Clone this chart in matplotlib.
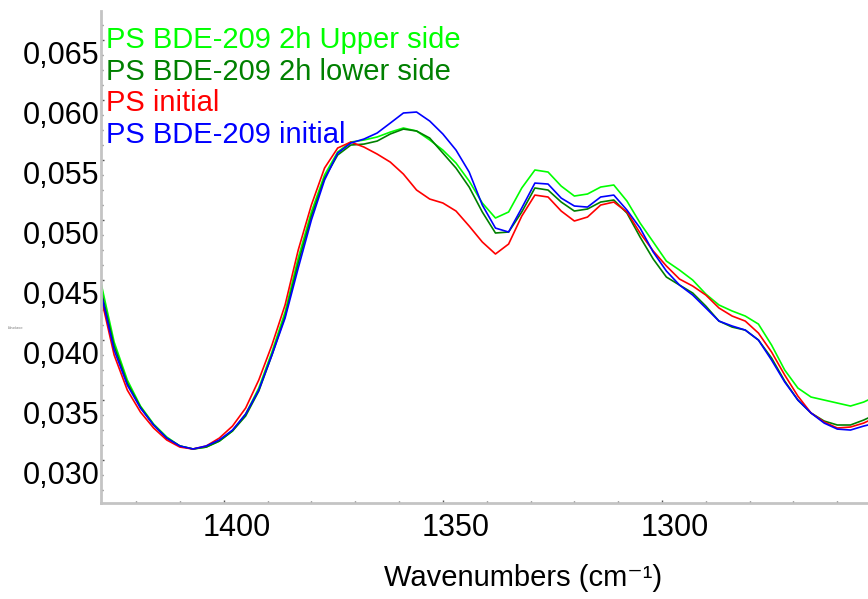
import matplotlib
matplotlib.use("Agg")
import matplotlib.pyplot as plt
from matplotlib.ticker import FixedLocator, MultipleLocator, AutoMinorLocator, FuncFormatter
from matplotlib.transforms import ScaledTranslation
from matplotlib import font_manager

# ---------------- data ----------------
wavenumbers = [1428, 1425, 1422, 1419, 1416, 1413, 1410, 1407, 1404, 1401,
               1398, 1395, 1392, 1389, 1386, 1383, 1380, 1377, 1374, 1371,
               1368, 1365, 1362, 1359, 1356, 1353, 1350, 1347, 1344, 1341,
               1338, 1335, 1332, 1329, 1326, 1323, 1320, 1317, 1314, 1311,
               1308, 1305, 1302, 1299, 1296, 1293, 1290, 1287, 1284, 1281,
               1278, 1275, 1272, 1269, 1266, 1263, 1260, 1257, 1254, 1253]

upper_side = [0.04475, 0.03983, 0.03667, 0.03450, 0.03300, 0.03192, 0.03117, 0.03092, 0.03108, 0.03158,
              0.03242, 0.03383, 0.03600, 0.03900, 0.04233, 0.04683, 0.05067, 0.05375, 0.05567, 0.05650,
              0.05667, 0.05692, 0.05733, 0.05767, 0.05742, 0.05667, 0.05583, 0.05475, 0.05325, 0.05142,
              0.05017, 0.05067, 0.05267, 0.05417, 0.05400, 0.05283, 0.05200, 0.05217, 0.05275, 0.05292,
              0.05158, 0.04975, 0.04817, 0.04658, 0.04583, 0.04500, 0.04383, 0.04292, 0.04242, 0.04200,
              0.04133, 0.03958, 0.03750, 0.03600, 0.03525, 0.03500, 0.03475, 0.03450, 0.03483, 0.03500]

lower_side = [0.04417, 0.03950, 0.03642, 0.03442, 0.03292, 0.03183, 0.03117, 0.03092, 0.03108, 0.03158,
              0.03242, 0.03367, 0.03575, 0.03875, 0.04200, 0.04642, 0.05033, 0.05350, 0.05542, 0.05625,
              0.05633, 0.05658, 0.05717, 0.05758, 0.05742, 0.05683, 0.05558, 0.05433, 0.05275, 0.05067,
              0.04892, 0.04900, 0.05067, 0.05267, 0.05250, 0.05150, 0.05075, 0.05092, 0.05150, 0.05167,
              0.05058, 0.04858, 0.04675, 0.04525, 0.04458, 0.04392, 0.04283, 0.04158, 0.04108, 0.04083,
              0.04000, 0.03850, 0.03658, 0.03500, 0.03392, 0.03325, 0.03292, 0.03292, 0.03333, 0.03350]

ps_initial = [0.04358, 0.03875, 0.03583, 0.03400, 0.03267, 0.03167, 0.03108, 0.03092, 0.03117, 0.03183,
              0.03283, 0.03433, 0.03667, 0.03958, 0.04292, 0.04750, 0.05125, 0.05433, 0.05600, 0.05650,
              0.05608, 0.05550, 0.05483, 0.05383, 0.05250, 0.05175, 0.05142, 0.05075, 0.04950, 0.04817,
              0.04717, 0.04800, 0.05033, 0.05208, 0.05192, 0.05075, 0.04992, 0.05025, 0.05125, 0.05150,
              0.05067, 0.04892, 0.04742, 0.04617, 0.04508, 0.04450, 0.04375, 0.04267, 0.04200, 0.04158,
              0.04058, 0.03900, 0.03708, 0.03533, 0.03392, 0.03317, 0.03267, 0.03275, 0.03308, 0.03325]

bde_initial = [0.04392, 0.03917, 0.03625, 0.03433, 0.03292, 0.03183, 0.03117, 0.03092, 0.03117, 0.03167,
               0.03250, 0.03383, 0.03583, 0.03875, 0.04183, 0.04600, 0.05000, 0.05333, 0.05558, 0.05642,
               0.05675, 0.05725, 0.05808, 0.05892, 0.05900, 0.05825, 0.05717, 0.05583, 0.05400, 0.05125,
               0.04933, 0.04900, 0.05100, 0.05308, 0.05300, 0.05183, 0.05117, 0.05108, 0.05192, 0.05208,
               0.05083, 0.04933, 0.04733, 0.04575, 0.04458, 0.04375, 0.04267, 0.04158, 0.04117, 0.04083,
               0.04000, 0.03833, 0.03650, 0.03500, 0.03392, 0.03308, 0.03258, 0.03250, 0.03283, 0.03292]

series_labels = ["PS BDE-209 2h Upper side", "PS BDE-209 2h lower side",
                 "PS initial", "PS BDE-209 initial"]
series_colors = ["#00ff00", "#008000", "#ff0000", "#0000ff"]
x_major_ticks = [1400, 1350, 1300]
y_major_ticks = [0.030, 0.035, 0.040, 0.045, 0.050, 0.055, 0.060, 0.065]
x_label = "Wavenumbers (cm\u207b\u00b9)"
y_label = "Absorbance"

# ---------------- fonts ----------------
available = {f.name for f in font_manager.fontManager.ttflist}
base_font = "Liberation Sans" if "Liberation Sans" in available else "DejaVu Sans"
plt.rcParams["font.family"] = [base_font, "DejaVu Sans"]

W, H, DPI = 868, 599, 100
fig = plt.figure(figsize=(W / DPI, H / DPI), dpi=DPI)
ax = fig.add_axes([101 / W, (H - 503) / H, (W - 101) / W, (503 - 11) / H])

series = [upper_side, lower_side, ps_initial, bde_initial]
for vals, col in zip(series, series_colors):
    ax.plot(wavenumbers, vals, color=col, lw=1.2, solid_joinstyle="round")

ax.set_xlim(1428, 1253)
ax.set_ylim(0.02642, 0.06742)

for s in ["top", "right"]:
    ax.spines[s].set_visible(False)
for s in ["left", "bottom"]:
    ax.spines[s].set_color("#c4c4c4")
    ax.spines[s].set_linewidth(2.0)

ax.xaxis.set_major_locator(FixedLocator(x_major_ticks))
ax.xaxis.set_minor_locator(MultipleLocator(10))
ax.yaxis.set_major_locator(FixedLocator(y_major_ticks))
ax.yaxis.set_minor_locator(AutoMinorLocator(4))
ax.yaxis.set_major_formatter(FuncFormatter(lambda v, p: f"{v:.3f}".replace(".", ",")))

ax.tick_params(which="both", direction="in", color="#555555", width=1.0)
ax.tick_params(which="major", length=2.5)
ax.tick_params(which="minor", length=1.5)
ax.tick_params(axis="x", labelsize=22, pad=7)
ax.tick_params(axis="y", labelsize=22, pad=1)

# shift tick labels like the reference (labels sit right of / below their ticks)
for lab in ax.get_xticklabels():
    lab.set_transform(lab.get_transform() + ScaledTranslation(13 / DPI, 0, fig.dpi_scale_trans))
for lab in ax.get_yticklabels():
    lab.set_transform(lab.get_transform() + ScaledTranslation(0, -12 / DPI, fig.dpi_scale_trans))

ax.set_xlabel(x_label, fontsize=21, va="center")
ax.xaxis.set_label_coords((523 - 101) / (W - 101), -(578 - 503) / (503 - 11))

fig.text(15 / W, 1 - 328 / H, y_label, fontsize=2, color="#808080", ha="center", va="center")

# legend as coloured text lines
row_y = [40, 72, 103, 135]
for lbl, col, yy in zip(series_labels, series_colors, row_y):
    fig.text(106 / W, 1 - yy / H, lbl, color=col, fontsize=21, ha="left", va="center")

fig.savefig("out.png", dpi=DPI)
